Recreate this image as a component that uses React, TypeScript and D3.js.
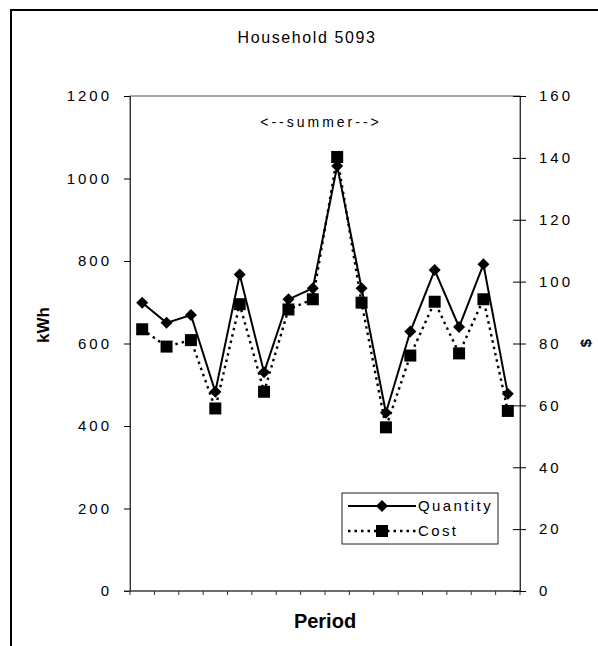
import React, { useEffect, useRef } from "react";
import * as d3 from "d3";

// household 5093, monthly periods
const periods = ["1", "2", "3", "4", "5", "6", "7", "8", "9", "10", "11", "12", "13", "14", "15", "16"];
const quantityKwh = [699, 650, 669, 483, 767, 530, 707, 734, 1030, 734, 432, 629, 778, 640, 792, 478];
const costDollars = [84.6, 79.0, 81.1, 59.0, 92.7, 64.4, 91.0, 94.3, 140.3, 93.2, 52.9, 76.1, 93.5, 76.8, 94.3, 58.2];
const kwhTicks = [0, 200, 400, 600, 800, 1000, 1200];
const dollarTicks = [0, 20, 40, 60, 80, 100, 120, 140, 160];
const seriesNames = ["Quantity", "Cost"];

const W = 598;
const H = 646;
const FONT = "'Liberation Sans', Arial, sans-serif";

export default function App() {
  const ref = useRef<SVGSVGElement>(null);

  useEffect(() => {
    const svg = d3.select(ref.current);
    svg.selectAll("*").remove();

    const left = 130, right = 520, top = 96, bottom = 591;

    const x = d3.scaleBand().domain(periods).range([left, right]);
    const yL = d3.scaleLinear().domain([0, 1200]).range([bottom, top]);
    const yR = d3.scaleLinear().domain([0, 160]).range([bottom, top]);
    const cx = (i: number) => (x(periods[i]) as number) + x.bandwidth() / 2;

    svg.append("rect").attr("width", W).attr("height", H).style("fill", "#fff");

    // outer frame (top + left only, as scanned)
    svg.append("line").attr("x1", 10).attr("y1", 10).attr("x2", W).attr("y2", 10)
      .style("stroke", "#000").style("stroke-width", 2);
    svg.append("line").attr("x1", 11).attr("y1", 10).attr("x2", 11).attr("y2", H)
      .style("stroke", "#000").style("stroke-width", 2);

    // title
    svg.append("text").attr("x", 307).attr("y", 43).attr("text-anchor", "middle")
      .style("font-family", FONT).style("font-size", "16px").style("letter-spacing", "1.6px")
      .text("Household 5093");

    // plot box
    svg.append("rect").attr("x", left).attr("y", top).attr("width", right - left).attr("height", bottom - top)
      .style("fill", "none").style("stroke", "#555").style("stroke-width", 1);

    // left axis
    const gL = svg.append("g").attr("transform", `translate(${left},0)`)
      .call(d3.axisLeft(yL).tickValues(kwhTicks).tickSize(6).tickPadding(12).tickFormat(d3.format("d")));
    gL.select(".domain").style("stroke", "#333");
    gL.selectAll("text").style("font-family", FONT).style("font-size", "15px").style("letter-spacing", "3px");

    // right axis, ticks cross the line
    const gR = svg.append("g").attr("transform", `translate(${right},0)`)
      .call(d3.axisRight(yR).tickValues(dollarTicks).tickSize(6).tickPadding(13).tickFormat(d3.format("d")));
    gR.select(".domain").style("stroke", "#333");
    gR.selectAll(".tick line").attr("x1", -7).attr("x2", 6);
    gR.selectAll("text").style("font-family", FONT).style("font-size", "15px").style("letter-spacing", "3px");

    // x axis ticks at band edges
    const edges = periods.map((p) => x(p) as number).concat([right]);
    svg.append("line").attr("x1", left - 6).attr("x2", right).attr("y1", bottom).attr("y2", bottom)
      .style("stroke", "#333");
    svg.selectAll("xt").data(edges).enter().append("line")
      .attr("x1", (d) => d).attr("x2", (d) => d).attr("y1", bottom).attr("y2", bottom + 4)
      .style("stroke", "#333");

    // axis titles
    svg.append("text").attr("transform", "translate(49,325) rotate(-90)").attr("text-anchor", "middle")
      .style("font-family", FONT).style("font-size", "17px").style("font-weight", "bold").text("kWh");
    svg.append("text").attr("transform", "translate(591,343) rotate(-90)").attr("text-anchor", "middle")
      .style("font-family", FONT).style("font-size", "15px").style("font-weight", "bold").text("$");
    svg.append("text").attr("x", 325).attr("y", 628).attr("text-anchor", "middle")
      .style("font-family", FONT).style("font-size", "20px").style("font-weight", "bold").text("Period");

    svg.append("text").attr("x", 321).attr("y", 127).attr("text-anchor", "middle")
      .style("font-family", FONT).style("font-size", "14px").style("letter-spacing", "3px")
      .text("<--summer-->");

    // cost series (dotted, squares)
    const costLine = d3.line<number>().x((d, i) => cx(i)).y((d) => yR(d));
    svg.append("path").datum(costDollars).attr("d", costLine)
      .style("fill", "none").style("stroke", "#000").style("stroke-width", 2.4).style("stroke-dasharray", "2.5,4");

    // quantity series (solid, diamonds)
    const qLine = d3.line<number>().x((d, i) => cx(i)).y((d) => yL(d));
    svg.append("path").datum(quantityKwh).attr("d", qLine)
      .style("fill", "none").style("stroke", "#000").style("stroke-width", 2);

    const diamond = d3.symbol().type(d3.symbolSquare).size(72);
    const square = d3.symbol().type(d3.symbolSquare).size(144);

    svg.selectAll("qm").data(quantityKwh).enter().append("path")
      .attr("d", diamond as any)
      .attr("transform", (d, i) => `translate(${cx(i)},${yL(d)}) rotate(45)`)
      .style("fill", "#000");

    svg.selectAll("cm").data(costDollars).enter().append("path")
      .attr("d", square as any)
      .attr("transform", (d, i) => `translate(${cx(i)},${yR(d)})`)
      .style("fill", "#000");

    // legend
    const lg = svg.append("g").attr("transform", "translate(342,493)");
    lg.append("rect").attr("width", 156).attr("height", 51).style("fill", "#fff").style("stroke", "#222");
    const rows = lg.selectAll("row").data(seriesNames).enter().append("g")
      .attr("transform", (d, i) => `translate(0,${13 + i * 25})`);
    rows.append("line").attr("x1", 6).attr("x2", 74).attr("y1", 0).attr("y2", 0)
      .style("stroke", "#000")
      .style("stroke-width", (d, i) => (i === 0 ? 2 : 2.4))
      .style("stroke-dasharray", (d, i) => (i === 0 ? null : "2.5,4"));
    rows.append("path")
      .attr("d", (d, i) => (i === 0 ? diamond() : square()) as string)
      .attr("transform", (d, i) => (i === 0 ? "translate(40,0) rotate(45)" : "translate(40,0)"))
      .style("fill", "#000");
    rows.append("text").attr("x", 76).attr("y", 5).style("font-family", FONT).style("font-size", "15px")
      .style("letter-spacing", "2.4px").text((d) => d);
  }, []);

  return (
    <div style={{ position: "absolute", left: 0, top: 0 }}>
      <svg ref={ref} width={W} height={H} style={{ display: "block" }}></svg>
    </div>
  );
}
